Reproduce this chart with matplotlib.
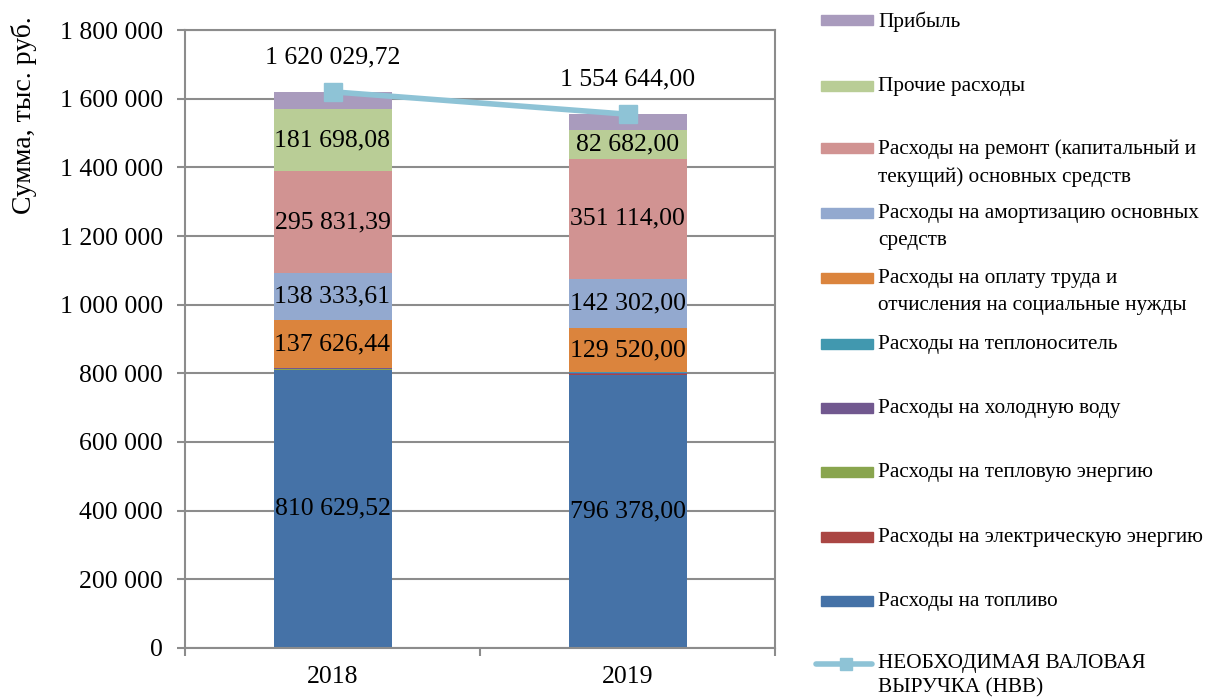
import numpy as np
import matplotlib
matplotlib.use('Agg')
import matplotlib.pyplot as plt
from matplotlib.patches import Rectangle
from matplotlib.lines import Line2D

plt.rcParams['font.family'] = ['Liberation Serif', 'DejaVu Serif']

years = ['2018', '2019']

# cost components, thousand rub.
fuel = [810629.52, 796378.00]
electricity = [500.0, 600.0]
heat = [300.0, 200.0]
cold_water = [5000.0, 5200.0]
heat_carrier = [100.0, 100.0]
labor = [137626.44, 129520.00]
depreciation = [138333.61, 142302.00]
repair = [295831.39, 351114.00]
other = [181698.08, 82682.00]
profit = [50010.68, 46548.00]
nvv = [1620029.72, 1554644.00]

series = [
    ('Расходы на топливо', fuel, '#4572A7', True),
    ('Расходы на электрическую энергию', electricity, '#AA4643', False),
    ('Расходы на тепловую энергию', heat, '#89A54E', False),
    ('Расходы на холодную воду', cold_water, '#71588F', False),
    ('Расходы на теплоноситель', heat_carrier, '#4198AF', False),
    ('Расходы на оплату труда и\nотчисления на социальные нужды', labor, '#DB843D', True),
    ('Расходы на амортизацию основных\nсредств', depreciation, '#93A9CF', True),
    ('Расходы на ремонт (капитальный и\nтекущий) основных средств', repair, '#D19392', True),
    ('Прочие расходы', other, '#B9CD96', True),
    ('Прибыль', profit, '#A99BBD', False),
]
line_color = '#8EC3D6'
grid_color = '#8C8C8C'
FS = 18.5


def fmt(v, dec=2):
    s = f'{v:,.{dec}f}'
    return s.replace(',', ' ').replace('.', ',')


fig = plt.figure(figsize=(12.07, 6.99), dpi=100)
ax = fig.add_axes([185 / 1207, 51 / 699, 590 / 1207, 618 / 699])

x = np.arange(len(years))
bottom = np.zeros(len(years))
for name, vals, color, labelled in series:
    vals = np.array(vals)
    ax.bar(x, vals, 0.4, bottom=bottom, color=color, zorder=2)
    if labelled:
        for xi, b, v in zip(x, bottom, vals):
            ax.text(xi, b + v / 2, fmt(v), ha='center', va='center',
                    fontsize=FS, zorder=4)
    bottom += vals

ax.plot(x, nvv, color=line_color, lw=4, marker='s', ms=13, zorder=3)
for xi, v in zip(x, nvv):
    ax.annotate(fmt(v), (xi, v), xytext=(0, 17), textcoords='offset points',
                ha='center', va='bottom', fontsize=FS)

ax.set_xlim(-0.5, 1.5)
ax.set_ylim(0, 1800000)
yt = np.arange(0, 1800001, 200000)
ax.set_yticks(yt)
ax.set_yticklabels([fmt(t, 0) for t in yt], fontsize=FS)
ax.set_xticks(x)
ax.set_xticklabels(years, fontsize=FS)
ax.set_xticks([-0.5, 0.5, 1.5], minor=True)
ax.tick_params(axis='x', which='major', length=0, pad=13)
ax.tick_params(axis='x', which='minor', length=6, color=grid_color, width=1.5)
ax.tick_params(axis='y', length=6, color=grid_color, width=1.5, pad=10)
ax.yaxis.grid(True, color=grid_color, lw=1.5, zorder=0)
ax.set_axisbelow(True)
for sp in ax.spines.values():
    sp.set_color(grid_color)
    sp.set_linewidth(1.5)
ax.set_ylabel('Сумма, тыс. руб.', fontsize=20)
ax.yaxis.set_label_coords(-0.25, 0.862)

# legend on the right, top entry first
H = 699.0
W = 1207.0
LFS = 15.3
entries = [(name, color) for name, _, color, _ in series][::-1]
ys = [20, 86, 148, 213, 278, 344, 408, 472, 537, 601]
for (name, color), yc in zip(entries, ys):
    fig.patches.append(Rectangle((821 / W, 1 - (yc + 5) / H), 52 / W, 10 / H,
                                 transform=fig.transFigure, color=color))
    fig.text(878 / W, 1 - (yc - 9) / H, name, fontsize=LFS, va='top',
             ha='left', linespacing=1.6)
yl = 664
fig.lines.append(Line2D([816 / W, 872 / W], [1 - yl / H, 1 - yl / H],
                        transform=fig.transFigure, color=line_color, lw=4,
                        solid_capstyle='round'))
fig.lines.append(Line2D([846 / W], [1 - yl / H], transform=fig.transFigure,
                        color=line_color, marker='s', ms=9, lw=0))
fig.text(878 / W, 1 - (yl - 10) / H, 'НЕОБХОДИМАЯ ВАЛОВАЯ\nВЫРУЧКА (НВВ)',
         fontsize=LFS, va='top', ha='left', linespacing=1.4)

fig.savefig('out.png', dpi=100)
